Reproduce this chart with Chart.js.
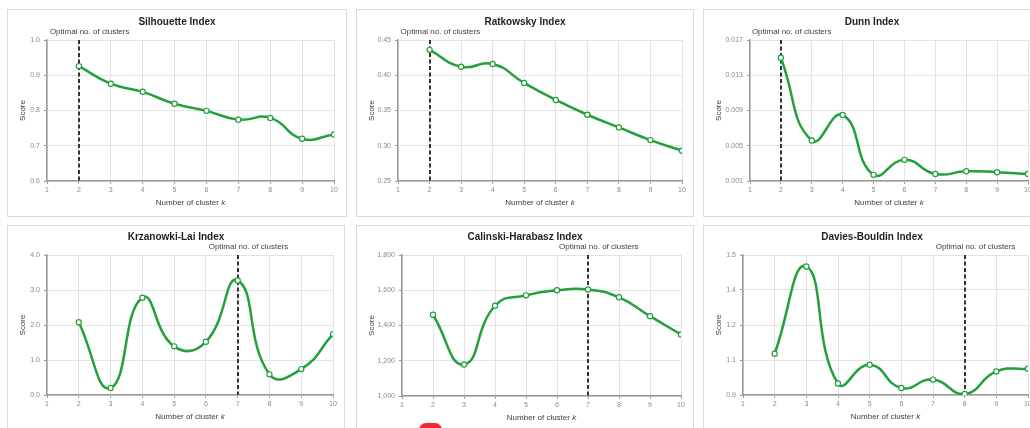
<!DOCTYPE html>
<html>
<head>
<meta charset="utf-8">
<script src="https://cdn.jsdelivr.net/npm/chart.js@4.4.0/dist/chart.umd.min.js"></script>
<style>
  html, body { margin: 0; padding: 0; background: #fff; overflow: hidden; width: 1030px; height: 428px; }
  .panel { position: absolute; box-sizing: border-box; border: 1px solid #dadada; background: #fff; }
  .panel canvas { position: absolute; left: -1px; top: -1px; }
  #blob { position: absolute; z-index: 5; left: 419px; top: 423px; width: 23px; height: 14px; background: #f42a2a; border-radius: 7px 7px 0 0; }
</style>
</head>
<body>

<div id="blob"></div>

<script>
// numero de clusters k (eje x) y las etiquetas del eje
const kValues = [2, 3, 4, 5, 6, 7, 8, 9, 10];
const xTicks = [1, 2, 3, 4, 5, 6, 7, 8, 9, 10];

// valores de cada indice
const silhouette = [0.926, 0.876, 0.853, 0.819, 0.799, 0.774, 0.779, 0.720, 0.732];
const ratkowsky = [0.436, 0.412, 0.416, 0.389, 0.365, 0.344, 0.326, 0.308, 0.293];
const dunn = [0.0150, 0.0056, 0.0085, 0.0017, 0.0034, 0.0018, 0.0021, 0.0020, 0.0018];
const krzanowskiLai = [2.08, 0.20, 2.78, 1.39, 1.52, 3.27, 0.59, 0.74, 1.74];
const calinskiHarabasz = [1461, 1179, 1512, 1571, 1600, 1604, 1560, 1453, 1349];
const daviesBouldin = [1.077, 1.451, 0.949, 1.030, 0.930, 0.966, 0.904, 1.001, 1.013];

// ticks del eje y
const silTicks = [0.6, 0.7, 0.8, 0.9, 1.0];
const silTickLabels = ['0.6', '0.7', '0.8', '0.9', '1.0'];
const ratTicks = [0.25, 0.30, 0.35, 0.40, 0.45];
const ratTickLabels = ['0.25', '0.30', '0.35', '0.40', '0.45'];
const dunnTicks = [0.001, 0.005, 0.009, 0.013, 0.017];
const dunnTickLabels = ['0.001', '0.005', '0.009', '0.013', '0.017'];
const klTicks = [0, 1, 2, 3, 4];
const klTickLabels = ['0.0', '1.0', '2.0', '3.0', '4.0'];
const chTicks = [1000, 1200, 1400, 1600, 1800];
const chTickLabels = ['1,000', '1,200', '1,400', '1,600', '1,800'];
const dbTicks = [0.9, 1.05, 1.2, 1.35, 1.5];
const dbTickLabels = ['0.9', '1.1', '1.2', '1.4', '1.5'];

const FONT = '"Liberation Sans", Arial, sans-serif';
const GREEN = '#23a03c';

// dibuja titulo, linea del optimo y titulos de ejes
const panelDecor = {
    id: 'panelDecor',
    beforeDatasetsDraw(chart, args, opts) {
        const { ctx, chartArea: a, scales: { x } } = chart;
        const px = Math.round(x.getPixelForValue(opts.optimal));
        ctx.save();
        ctx.strokeStyle = '#333';
        ctx.lineWidth = 2;
        ctx.setLineDash([4, 2.5]);
        ctx.beginPath();
        ctx.moveTo(px, a.top);
        ctx.lineTo(px, a.bottom);
        ctx.stroke();
        ctx.restore();
    },
    afterDraw(chart, args, opts) {
        const { ctx, chartArea: a, scales: { x } } = chart;
        ctx.save();
        ctx.textBaseline = 'middle';

        ctx.fillStyle = '#1f1f1f';
        ctx.font = 'bold 10px ' + FONT;
        ctx.textAlign = 'center';
        ctx.fillText(opts.title, chart.width / 2, a.top - 18);

        ctx.fillStyle = '#404040';
        ctx.font = '8px ' + FONT;
        ctx.textAlign = 'left';
        ctx.fillText('Optimal no. of clusters', x.getPixelForValue(opts.optimal) - 29, a.top - 8);

        ctx.save();
        ctx.translate(16, (a.top + a.bottom) / 2);
        ctx.rotate(-Math.PI / 2);
        ctx.textAlign = 'center';
        ctx.fillText('Score', 0, 0);
        ctx.restore();

        // "Number of cluster k" con la k en cursiva
        const t1 = 'Number of cluster ';
        ctx.font = '8px ' + FONT;
        const w1 = ctx.measureText(t1).width;
        ctx.font = 'italic 8px ' + FONT;
        const w2 = ctx.measureText('k').width;
        const sx = (a.left + a.right) / 2 - (w1 + w2) / 2;
        const ty = a.bottom + 22;
        ctx.textAlign = 'left';
        ctx.font = '8px ' + FONT;
        ctx.fillText(t1, sx, ty);
        ctx.font = 'italic 8px ' + FONT;
        ctx.fillText('k', sx + w1, ty);
        ctx.restore();
    }
};

const panels = [
    { left: 7,   top: 9,   w: 340, h: 208, yw: 40, pt: 31, pr: 13, xh: 36, title: 'Silhouette Index',         optimal: 2, values: silhouette,       ticks: silTicks,  labels: silTickLabels },
    { left: 356, top: 9,   w: 338, h: 208, yw: 42, pt: 31, pr: 12, xh: 36, title: 'Ratkowsky Index',          optimal: 2, values: ratkowsky,        ticks: ratTicks,  labels: ratTickLabels },
    { left: 703, top: 9,   w: 338, h: 208, yw: 47, pt: 31, pr: 13, xh: 36, title: 'Dunn Index',               optimal: 2, values: dunn,             ticks: dunnTicks, labels: dunnTickLabels },
    { left: 7,   top: 225, w: 338, h: 208, yw: 40, pt: 30, pr: 12, xh: 38, title: 'Krzanowki-Lai Index',      optimal: 7, values: krzanowskiLai,    ticks: klTicks,   labels: klTickLabels },
    { left: 356, top: 225, w: 338, h: 208, yw: 46, pt: 30, pr: 13, xh: 37, title: 'Calinski-Harabasz Index',  optimal: 7, values: calinskiHarabasz, ticks: chTicks,   labels: chTickLabels },
    { left: 703, top: 225, w: 338, h: 208, yw: 40, pt: 30, pr: 13, xh: 38, title: 'Davies-Bouldin Index',     optimal: 8, values: daviesBouldin,    ticks: dbTicks,   labels: dbTickLabels }
];

function createPanelChart(p) {
    const div = document.createElement('div');
    div.className = 'panel';
    div.style.left = p.left + 'px';
    div.style.top = p.top + 'px';
    div.style.width = p.w + 'px';
    div.style.height = p.h + 'px';
    const canvas = document.createElement('canvas');
    canvas.width = p.w;
    canvas.height = p.h;
    canvas.style.width = p.w + 'px';
    canvas.style.height = p.h + 'px';
    div.appendChild(canvas);
    document.body.appendChild(div);

    const axisGrid = { color: '#e3e3e3', tickColor: '#999', tickLength: 3, lineWidth: 1 };
    const axisBorder = { color: '#999', width: 1.5 };
    const tickFont = { size: 7, family: FONT };

    return new Chart(canvas, {
        type: 'line',
        data: {
            datasets: [{
                data: kValues.map((k, i) => ({ x: k, y: p.values[i] })),
                borderColor: GREEN,
                borderWidth: 2.5,
                tension: 0.5,
                fill: false,
                pointRadius: 2.6,
                pointBackgroundColor: '#fff',
                pointBorderColor: GREEN,
                pointBorderWidth: 1.2
            }]
        },
        options: {
            responsive: false,
            animation: false,
            events: [],
            layout: { padding: { left: 0, top: p.pt, right: p.pr, bottom: 0 } },
            plugins: {
                legend: { display: false },
                tooltip: { enabled: false },
                panelDecor: { title: p.title, optimal: p.optimal }
            },
            scales: {
                x: {
                    type: 'linear',
                    min: xTicks[0],
                    max: xTicks[xTicks.length - 1],
                    afterBuildTicks: s => { s.ticks = xTicks.map(v => ({ value: v })); },
                    afterFit: s => { s.height = p.xh; },
                    grid: axisGrid,
                    border: axisBorder,
                    ticks: { font: tickFont, color: '#8a8a8a', padding: 2, maxRotation: 0, autoSkip: false, callback: v => String(v) }
                },
                y: {
                    min: p.ticks[0],
                    max: p.ticks[p.ticks.length - 1],
                    afterBuildTicks: s => { s.ticks = p.ticks.map(v => ({ value: v })); },
                    afterFit: s => { s.width = p.yw; },
                    grid: axisGrid,
                    border: axisBorder,
                    ticks: { font: tickFont, color: '#8a8a8a', padding: 4, callback: (v, i) => p.labels[i] }
                }
            }
        },
        plugins: [panelDecor]
    });
}

panels.forEach(createPanelChart);
</script>
</body>
</html>
